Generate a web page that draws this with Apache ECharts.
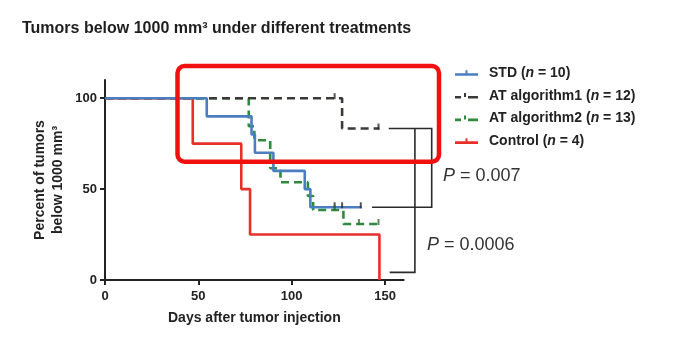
<!DOCTYPE html>
<html>
<head>
<meta charset="utf-8">
<script src="https://cdn.jsdelivr.net/npm/echarts@6/dist/echarts.min.js"></script>
<style>html,body{margin:0;padding:0;background:#fff}#c{width:695px;height:358px}</style>
</head>
<body>
<div id="c"></div>
<script>
// Kaplan-Meier step data: [day, percent]
var stdCurve = [[0,100],[54.5,90],[78.5,80],[80.3,70],[90.2,60],[107,50],[110,40],[137.5,40]];
var algo1Curve = [[0,100],[127,83.3],[147,83.3]];
var algo2Curve = [[0,100],[77,84.6],[80,76.9],[88.5,61.5],[94,53.8],[108.7,46.2],[111.5,38.5],[127.7,30.8],[147,30.8]];
var controlCurve = [[0,100],[47,75],[73,50],[77.7,25],[147,0]];
// censor marks
var stdCensor = [[123,40],[127,40],[137,40]];
var algo1Censor = [[123,100],[146.5,83.3]];
var algo2Censor = [[123,38.5],[136,30.8],[146.5,30.8]];
// significance brackets
var bracket1 = [[152,83.3],[175,83.3],[175,40],[143,40]];
var bracket2 = [[166,83.3],[166,4.2],[152.5,4.2]];
var xTicks = [0,50,100,150];
var yTicks = [0,50,100];
var names = ['STD', 'AT algorithm1', 'AT algorithm2', 'Control'];
var counts = [10, 12, 13, 4];
var colors = ['#4a7ec0', '#3a3a36', '#2f8a3e', '#e8302a'];

var chart = echarts.init(document.getElementById('c'));
var solidIcon = 'path://M0,4h23v2.6h-23z M10.5,1h2v4h-2z';
var dashIcon = 'path://M0,4h6v2.6h-6z M9,1h2v4h-2z M13,4h10v2.6h-10z';
function lineSeries(i, data, dashed, z) {
  return {
    name: names[i], type: 'line', step: 'end', data: data, symbol: 'none', z: z,
    lineStyle: {color: colors[i], width: 2.6, type: dashed ? [8, 5] : 'solid'},
    itemStyle: {color: colors[i]}
  };
}
function censorSeries(data, color) {
  return {type: 'scatter', data: data, symbol: 'rect', symbolSize: [2, 6], symbolOffset: [0, -2],
    itemStyle: {color: color}, z: 6, silent: true};
}
function bracketSeries(pts) {
  return {type: 'custom', data: [0], clip: false, silent: true, z: 3,
    renderItem: function (params, api) {
      return {type: 'polyline',
        shape: {points: pts.map(function (p) { return api.coord(p); })},
        style: {stroke: '#2a2a2a', lineWidth: 1.6, fill: 'none'}};
    }};
}
var ff = 'Liberation Sans, Arial, sans-serif';
chart.setOption({
  backgroundColor: '#ffffff',
  animation: false,
  title: {
    text: 'Tumors below 1000 mm\u00b3 under different treatments',
    left: 17, top: 16,
    textStyle: {fontSize: 16, fontWeight: 'bold', color: '#1e1e1e', fontFamily: ff}
  },
  legend: {
    orient: 'vertical', left: 455, top: 65, padding: 0,
    itemWidth: 23, itemHeight: 8, itemGap: 6.7,
    data: names.map(function (n, i) {
      return {name: n, icon: (i === 1 || i === 2) ? dashIcon : solidIcon};
    }),
    formatter: function (name) {
      var i = names.indexOf(name);
      return '{b|' + name + ' (}{i|n}{b| = ' + counts[i] + ')}';
    },
    textStyle: {
      fontFamily: ff, fontSize: 14, fontWeight: 'bold', color: '#222', lineHeight: 16,
      rich: {
        b: {fontFamily: ff, fontSize: 14, fontWeight: 'bold', color: '#222'},
        i: {fontFamily: ff, fontSize: 14, fontWeight: 'bold', fontStyle: 'italic', color: '#222'}
      },
      padding: [0, 0, 0, 6]
    }
  },
  grid: {left: 105, top: 80, right: 291.3, bottom: 78, containLabel: false},
  xAxis: {
    type: 'value', min: 0, max: 160, interval: 50,
    name: 'Days after tumor injection', nameLocation: 'middle', nameGap: 31,
    nameTextStyle: {fontSize: 14, fontWeight: 'bold', color: '#222', fontFamily: ff},
    axisLine: {lineStyle: {color: '#222', width: 2}},
    axisTick: {length: 5, lineStyle: {color: '#222', width: 2}, customValues: xTicks},
    axisLabel: {fontSize: 13, fontWeight: 'bold', color: '#222', margin: 10, customValues: xTicks, fontFamily: ff},
    splitLine: {show: false}
  },
  yAxis: {
    type: 'value', min: 0, max: 110, interval: 50,
    name: 'Percent of tumors\nbelow 1000 mm\u00b3', nameLocation: 'middle', nameRotate: 90, nameGap: 38,
    nameTextStyle: {fontSize: 14, fontWeight: 'bold', color: '#222', lineHeight: 18, fontFamily: ff},
    axisLine: {show: true, lineStyle: {color: '#222', width: 2}},
    axisTick: {show: true, length: 5, lineStyle: {color: '#222', width: 2}, customValues: yTicks},
    axisLabel: {fontSize: 13, fontWeight: 'bold', color: '#222', margin: 8, customValues: yTicks, fontFamily: ff},
    splitLine: {show: false}
  },
  series: [
    lineSeries(2, algo2Curve, true, 2),
    lineSeries(1, algo1Curve, true, 3),
    lineSeries(3, controlCurve, false, 4),
    lineSeries(0, stdCurve, false, 5),
    censorSeries(stdCensor, '#2a2a2a'),
    censorSeries(algo1Censor, '#2a2a2a'),
    censorSeries(algo2Censor, '#2f6a34'),
    bracketSeries(bracket1),
    bracketSeries(bracket2)
  ],
  graphic: [
    {type: 'rect', shape: {x: 177.5, y: 66, width: 261.5, height: 95.7, r: 7},
     style: {fill: 'none', stroke: '#f01010', lineWidth: 4.5}, z: 100},
    {type: 'text', x: 443, y: 176, style: {text: '{i|P}{n| = 0.007}', verticalAlign: 'middle',
      rich: {i: {fontSize: 18, fontStyle: 'italic', fill: '#333', fontFamily: ff},
             n: {fontSize: 18, fill: '#333', fontFamily: ff}}}},
    {type: 'text', x: 427, y: 245, style: {text: '{i|P}{n| = 0.0006}', verticalAlign: 'middle',
      rich: {i: {fontSize: 18, fontStyle: 'italic', fill: '#333', fontFamily: ff},
             n: {fontSize: 18, fill: '#333', fontFamily: ff}}}}
  ]
});
</script>
</body>
</html>
